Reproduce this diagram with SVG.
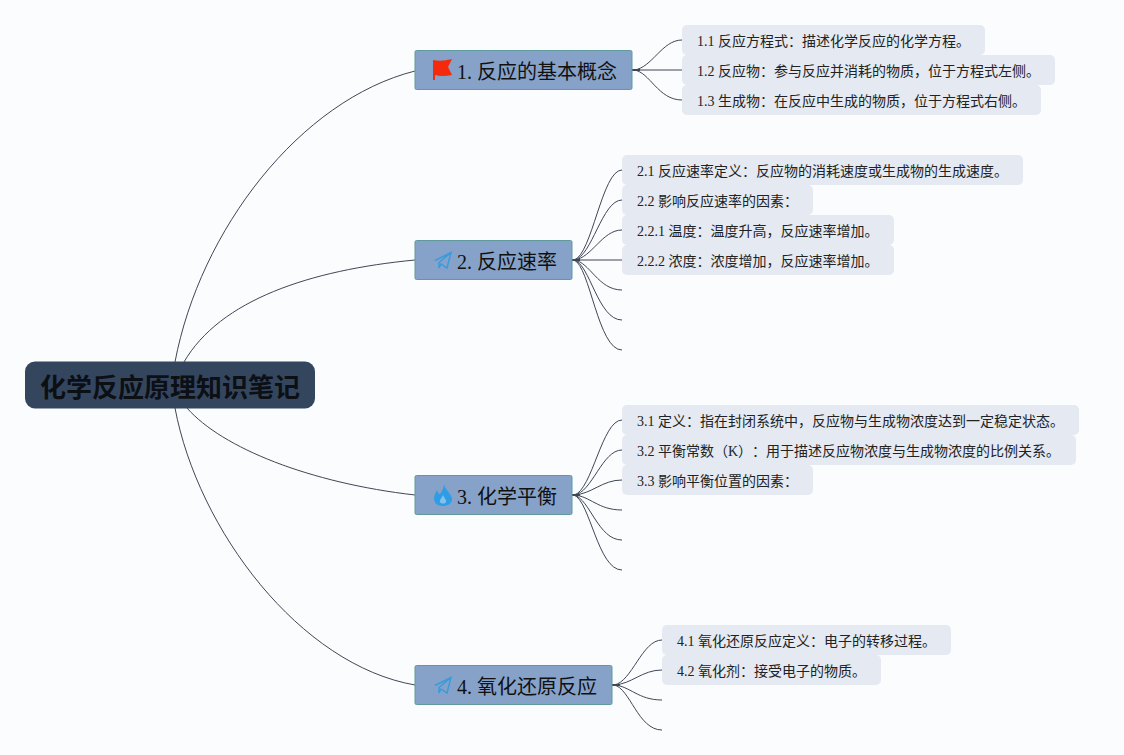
<svg xmlns="http://www.w3.org/2000/svg" width="1124" height="755" viewBox="0 0 1124 755">
<style>
text{font-family:"Liberation Serif","Noto Sans CJK SC",serif;fill:#222;text-spacing-trim:space-all}
.l{fill:#e4e9f2}
.t{font-size:14px}
.m{fill:#86a2c9;stroke:#5f9a9c;stroke-width:1}
.h{font-size:20px;fill:#111}
.p{fill:none;stroke:#3a9bdc;stroke-width:1.5}
#conn path{fill:none;stroke:#3f4656;stroke-width:1}
#conn path.s{stroke-width:2}
</style>
<rect width="1124" height="755" fill="#fbfcfd"/>
<g id="conn">
<path d="M175 362C200 230 300 100 415 71"/>
<path d="M184 362C220 300 310 270 415 260"/>
<path d="M187 408C222 448 310 483 415 495"/>
<path d="M175 408C198 530 300 665 415 685"/>
<path class="s" d="M632 70H640"/><path class="s" d="M572 260H580"/><path class="s" d="M572 495H580"/><path class="s" d="M612 685H620"/>
<path d="M634 70C652 68 662 40 682 40"/><path d="M634 70H682"/><path d="M634 70C650 72 658 100 682 100"/>
<path d="M574 260C592 255 602 170 622 170"/><path d="M574 260C592 257 602 200 622 200"/><path d="M574 260C592 258 602 230 622 230"/><path d="M574 260H622"/>
<path d="M574 260C590 262 598 290 622 290"/><path d="M574 260C590 264 598 320 622 320"/><path d="M574 260C590 266 598 350 622 350"/>
<path d="M574 495C592 491 602 420 622 420"/><path d="M574 495C592 493 602 450 622 450"/><path d="M574 495C592 494 602 480 622 480"/>
<path d="M574 495C590 496 598 510 622 510"/><path d="M574 495C590 499 598 540 622 540"/><path d="M574 495C590 501 598 570 622 570"/>
<path d="M614 685C632 682 642 640 662 640"/><path d="M614 685C632 684 642 670 662 670"/><path d="M614 685C630 686 638 700 662 700"/><path d="M614 685C630 688 638 730 662 730"/>
</g>
<g id="root"><rect x="25" y="361.500" width="290" height="47" rx="10" fill="#34465e"/><text x="170" y="397" text-anchor="middle" style="font-size:26px;font-weight:700;font-family:'Noto Sans CJK SC',sans-serif;fill:#0c0f14">化学反应原理知识笔记</text></g>
<g id="n1"><rect class="m" x="415" y="50.500" width="217" height="39" rx="1.500"/><path d="M433 60Q441 62 452 59L448 67L452 75Q442 77 435 75V80H433Z" fill="#f52a0c"/><text class="h" x="457" y="79">1. 反应的基本概念</text></g>
<g id="n2"><rect class="m" x="415" y="240.500" width="157" height="39" rx="1.500"/><path class="p" d="M435 260.500L451 252.500L447 268L441 264L439 268V262.500L451 252.500"/><text class="h" x="457" y="269">2. 反应速率</text></g>
<g id="n3"><rect class="m" x="415" y="475.500" width="157" height="39" rx="1.500"/><path d="M444 484C445 490 452 494 452 499C452 504 447 506 443 506C437 506 434 503 434 498C434 495 436 492 437 490C438 493 439 494 440 494C442 491 444 488 444 484Z" fill="#2e9de6"/><path d="M443 495C444 498 447 500 446 502C445 504 441 504 440 502C439 500 442 498 443 495Z" fill="#86c0ec"/><text class="h" x="457" y="504">3. 化学平衡</text></g>
<g id="n4"><rect class="m" x="415" y="665.500" width="197" height="39" rx="1.500"/><path class="p" d="M435 685.500L451 677.500L447 693L441 689L439 693V687.500L451 677.500"/><text class="h" x="457" y="694">4. 氧化还原反应</text></g>
<g id="n11"><rect class="l" x="682" y="25" width="303" height="30" rx="5"/><text class="t" x="697" y="46">1.1 反应方程式：描述化学反应的化学方程。</text></g>
<g id="n12"><rect class="l" x="682" y="55" width="373" height="30" rx="5"/><text class="t" x="697" y="76">1.2 反应物：参与反应并消耗的物质，位于方程式左侧。</text></g>
<g id="n13"><rect class="l" x="682" y="85" width="359" height="30" rx="5"/><text class="t" x="697" y="106">1.3 生成物：在反应中生成的物质，位于方程式右侧。</text></g>
<g id="n21"><rect class="l" x="622" y="155" width="401" height="30" rx="5"/><text class="t" x="637" y="176">2.1 反应速率定义：反应物的消耗速度或生成物的生成速度。</text></g>
<g id="n22"><rect class="l" x="622" y="185" width="191" height="30" rx="5"/><text class="t" x="637" y="206">2.2 影响反应速率的因素：</text></g>
<g id="n221"><rect class="l" x="622" y="215" width="272" height="30" rx="5"/><text class="t" x="637" y="236">2.2.1 温度：温度升高，反应速率增加。</text></g>
<g id="n222"><rect class="l" x="622" y="245" width="272" height="30" rx="5"/><text class="t" x="637" y="266">2.2.2 浓度：浓度增加，反应速率增加。</text></g>
<g id="n31"><rect class="l" x="622" y="405" width="457" height="30" rx="5"/><text class="t" x="637" y="426">3.1 定义：指在封闭系统中，反应物与生成物浓度达到一定稳定状态。</text></g>
<g id="n32"><rect class="l" x="622" y="435" width="454" height="30" rx="5"/><text class="t" x="637" y="456">3.2 平衡常数（K）：用于描述反应物浓度与生成物浓度的比例关系。</text></g>
<g id="n33"><rect class="l" x="622" y="465" width="191" height="30" rx="5"/><text class="t" x="637" y="486">3.3 影响平衡位置的因素：</text></g>
<g id="n41"><rect class="l" x="662" y="625" width="289" height="30" rx="5"/><text class="t" x="677" y="646">4.1 氧化还原反应定义：电子的转移过程。</text></g>
<g id="n42"><rect class="l" x="662" y="655" width="219" height="30" rx="5"/><text class="t" x="677" y="676">4.2 氧化剂：接受电子的物质。</text></g>
</svg>
